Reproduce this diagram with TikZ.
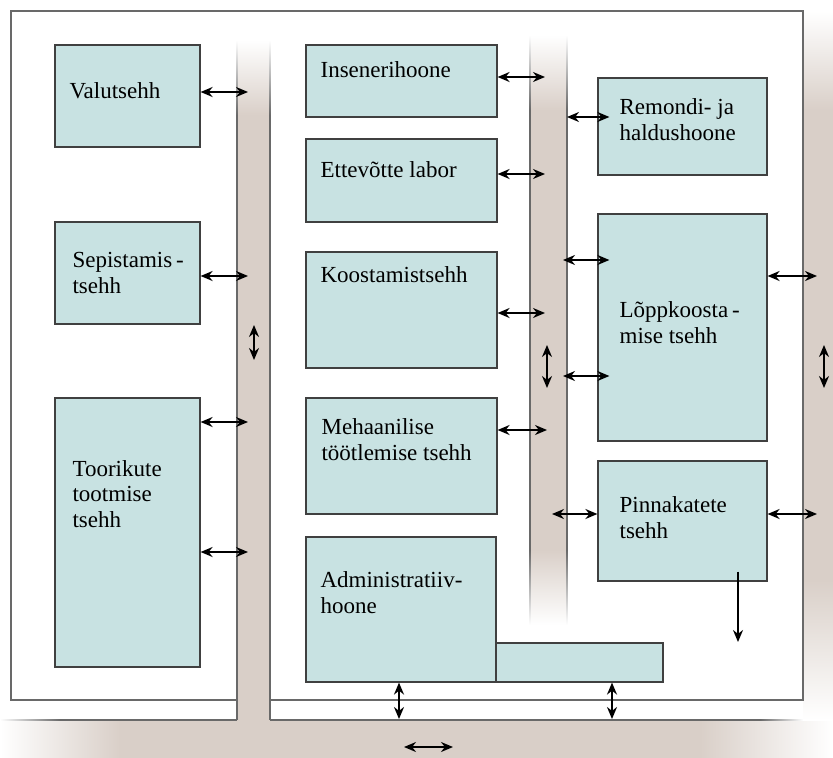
\documentclass[tikz,border=0pt]{standalone}
\usepackage{fontspec}
\setmainfont{Liberation Serif}
\usetikzlibrary{arrows.meta,fit,calc}
\definecolor{road}{RGB}{217,207,200}
\definecolor{hall}{RGB}{200,226,226}
\definecolor{edge}{RGB}{105,105,105}
\tikzset{
    hallbox/.style={draw=black!75, line width=1.2pt, fill=hall, inner sep=0pt},
    hallname/.style={font=\fontsize{23}{25.5}\selectfont, inner sep=0pt, align=left, anchor=base west},
    wallline/.style={draw=edge, line width=1.6pt},
    twoway/.style={line width=1.8pt, {Stealth[length=12pt,width=10pt]}-{Stealth[length=12pt,width=10pt]}},
    oneway/.style={line width=1.8pt, -{Stealth[length=12pt,width=10pt]}}
}
\begin{document}
\begin{tikzpicture}[x=1pt, y=-1pt]
    \useasboundingbox (0,0) rectangle (833,758);
    % Draw the roads
    \shade[top color=white, bottom color=road] (237,40) rectangle (270,115);
    \fill[road] (237,115) rectangle (270,758);
    \fill[road] (120,720) rectangle (700,758);
    \shade[left color=white, right color=road] (0,720) rectangle (120,758);
    \shade[left color=road, right color=white] (700,720) rectangle (833,758);
    \shade[top color=white, bottom color=road] (530,35) rectangle (567,110);
    \fill[road] (530,110) rectangle (567,550);
    \shade[top color=road, bottom color=white] (530,550) rectangle (567,625);
    \shade[top color=white, bottom color=road] (803,11) rectangle (833,110);
    \fill[road] (803,110) rectangle (833,580);
    \shade[top color=road, bottom color=white] (803,580) rectangle (833,720);
    % Draw the walls
    \draw[wallline] (237,700) -- (11,700) -- (11,11) -- (803,11) -- (803,700) -- (270,700);
    \shade[left color=white, right color=edge] (0,719.2) rectangle (60,720.8);
    \draw[wallline] (60,720) -- (237,720);
    \draw[wallline] (270,720) -- (760,720);
    \shade[left color=edge, right color=white] (760,719.2) rectangle (803,720.8);
    \foreach \x in {237,270} {
            \shade[top color=white, bottom color=edge] (\x-0.8,40) rectangle (\x+0.8,115);
            \draw[wallline] (\x,115) -- (\x,720);
        }
    \foreach \x in {530,567} {
            \shade[top color=white, bottom color=edge] (\x-0.8,35) rectangle (\x+0.8,110);
            \draw[wallline] (\x,110) -- (\x,550);
            \shade[top color=edge, bottom color=white] (\x-0.8,550) rectangle (\x+0.8,625);
        }
    % Draw the buildings
    \foreach \name/\xa/\ya/\xb/\yb in {valu/55/45/200/147, sepi/55/222/200/324, toor/55/398/200/667,
            inse/306/45/497/117, labo/306/139/497/222, koos/306/252/497/368, meha/306/398/497/514,
            adex/496/643/663/682, admi/306/537/496/682,
            remo/598/78/767/175, lopp/598/214/767/441, pinn/598/461/767/581} {
            \node[hallbox, fit={(\xa,\ya) (\xb,\yb)}] (\name) {};
        }
    % Names of the buildings (base = last line)
    \node[hallname] (valu-t) at ($(valu.north west)+(15,54)$) {Valutsehh};
    \node[hallname] (sepi-t) at ($(sepi.north west)+(18,72)$) {Sepistamis\,-\\tsehh};
    \node[hallname] (toor-t) at ($(toor.north west)+(18,130)$) {Toorikute\\tootmise\\tsehh};
    \node[hallname] (inse-t) at ($(inse.north west)+(15,33)$) {Insenerihoone};
    \node[hallname] (labo-t) at ($(labo.north west)+(15,39)$) {Ettevõtte labor};
    \node[hallname] (koos-t) at ($(koos.north west)+(15,31)$) {Koostamistsehh};
    \node[hallname] (meha-t) at ($(meha.north west)+(16,63)$) {Mehaanilise\\töötlemise tsehh};
    \node[hallname] (admi-t) at ($(admi.north west)+(15,77)$) {Administratiiv-\\hoone};
    \node[hallname] (remo-t) at ($(remo.north west)+(22,63)$) {Remondi- ja\\haldushoone};
    \node[hallname] (lopp-t) at ($(lopp.north west)+(22,130)$) {Lõppkoosta\,-\\mise tsehh};
    \node[hallname] (pinn-t) at ($(pinn.north west)+(22,78)$) {Pinnakatete\\tsehh};
    % Arrows to the left road
    \coordinate (valu-r) at (248,92);
    \coordinate (sepi-r) at (248,276);
    \coordinate (toor-r1) at (248,422);
    \coordinate (toor-r2) at (248,552);
    \draw[twoway] (valu.east |- valu-r) -- (valu-r);
    \draw[twoway] (sepi.east |- sepi-r) -- (sepi-r);
    \draw[twoway] (toor.east |- toor-r1) -- (toor-r1);
    \draw[twoway] (toor.east |- toor-r2) -- (toor-r2);
    % Arrows to the middle road
    \coordinate (inse-r) at (545,77);
    \coordinate (labo-r) at (545,174);
    \coordinate (koos-r) at (545,313);
    \coordinate (meha-r) at (547,430);
    \draw[twoway] (inse.east |- inse-r) -- (inse-r);
    \draw[twoway] (labo.east |- labo-r) -- (labo-r);
    \draw[twoway] (koos.east |- koos-r) -- (koos-r);
    \draw[twoway] (meha.east |- meha-r) -- (meha-r);
    \coordinate (remo-l) at (567,117);
    \coordinate (lopp-l1) at (563,260);
    \coordinate (lopp-l2) at (563,376);
    \coordinate (pinn-l) at (552,514);
    \draw[twoway] (remo-l) -- ($(remo.west |- remo-l)+(12,0)$);
    \draw[twoway] (lopp-l1) -- ($(lopp.west |- lopp-l1)+(12,0)$);
    \draw[twoway] (lopp-l2) -- ($(lopp.west |- lopp-l2)+(12,0)$);
    \draw[twoway] (pinn-l) -- (pinn.west |- pinn-l);
    % Arrows to the right road
    \coordinate (lopp-r) at (817,276);
    \coordinate (pinn-r) at (817,514);
    \draw[twoway] (lopp.east |- lopp-r) -- (lopp-r);
    \draw[twoway] (pinn.east |- pinn-r) -- (pinn-r);
    \coordinate (pinn-d) at (738,642);
    \draw[oneway] ($(pinn.south -| pinn-d)+(0,-10)$) -- (pinn-d);
    % Arrows to the bottom road
    \coordinate (admi-d) at (399,719);
    \coordinate (adex-d) at (612,719);
    \draw[twoway] (admi.south -| admi-d) -- (admi-d);
    \draw[twoway] (adex.south -| adex-d) -- (adex-d);
    % Traffic along the roads
    \coordinate (left-a) at (254,325);
    \coordinate (left-b) at (254,360);
    \coordinate (mid-a) at (547,345);
    \coordinate (mid-b) at (547,388);
    \coordinate (right-a) at (824,345);
    \coordinate (right-b) at (824,388);
    \coordinate (low-a) at (404,747);
    \coordinate (low-b) at (453,747);
    \draw[twoway] (left-a) -- (left-b);
    \draw[twoway] (mid-a) -- (mid-b);
    \draw[twoway] (right-a) -- (right-b);
    \draw[twoway] (low-a) -- (low-b);
\end{tikzpicture}
\end{document}
